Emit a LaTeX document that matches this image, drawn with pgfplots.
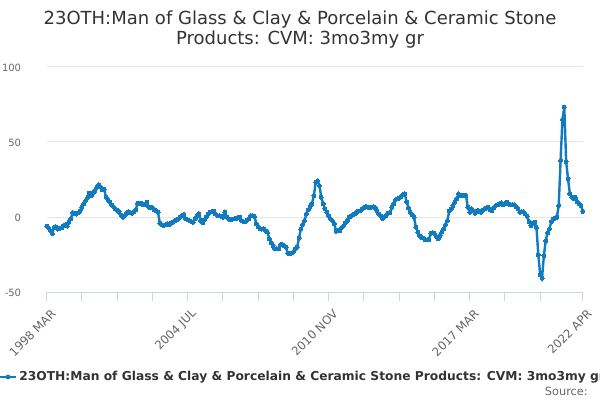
\documentclass[border=0pt]{standalone}
\usepackage{fontspec}
\setmainfont{DejaVu Sans}
\usepackage{pgfplots}
\pgfplotsset{compat=1.18}
\usepackage{pgfplotstable}
\definecolor{seriesblue}{RGB}{17,123,192}
\definecolor{titlegray}{HTML}{333333}
\definecolor{labelgray}{HTML}{666666}
\definecolor{gridgray}{HTML}{E6E6E6}
\definecolor{axisblue}{HTML}{CCD6EB}
\pgfplotstableread{
m v
0 -6
1 -7
2 -9
3 -11
4 -7
5 -6.5
6 -8
7 -7.5
8 -7.2
9 -6
10 -5
11 -6
12 -3.5
13 -1.2
14 3
15 2.5
16 2
17 3
18 4.3
19 6.5
20 8.8
21 11
22 13.2
23 15.9
24 14.3
25 16
26 17.7
27 19.9
28 21.4
29 20
30 18.1
31 18.5
32 13.2
33 11.5
34 9.9
35 8
36 7
37 5.5
38 4.5
39 3.7
40 1.5
41 -0.1
42 1
43 2.5
44 3.7
45 3
46 2.5
47 3.5
48 4.8
49 9.2
50 9
51 9.2
52 8
53 8.3
54 9.9
55 6.5
56 6.5
57 6.1
58 4.8
59 4
60 3.2
61 -4.1
62 -5
63 -5.7
64 -5
65 -4.5
66 -5
67 -4
68 -3.5
69 -2.5
70 -1.9
71 -1
72 -0.1
73 1
74 1.7
75 -1.2
76 -1.8
77 -2.3
78 -3
79 -3.5
80 -1.2
81 0.5
82 2.1
83 -2.3
84 -3.9
85 -2
86 -0.1
87 2
88 3.2
89 3.5
90 3.9
91 2
92 1
93 1
94 0.5
95 -0.1
96 3.2
97 0.3
98 -1
99 -1.9
100 -1.5
101 -1.2
102 -1.2
103 -0.5
104 -0.1
105 -2.3
106 -3
107 -3
108 -2
109 -1.2
110 1
111 0.8
112 0.5
113 -4.5
114 -6.5
115 -7.9
116 -8
117 -7.9
118 -9
119 -10.1
120 -14.5
121 -17
122 -19
123 -21.2
124 -21
125 -21.2
126 -18.3
127 -18.3
128 -19
129 -20.1
130 -24.1
131 -24.5
132 -24.1
133 -23
134 -21
135 -20
136 -14
137 -8
138 -5
139 -2.3
140 2.1
141 5
142 7
143 8.8
144 14.3
145 23.2
146 24.3
147 21
148 13.2
149 8.8
150 5.5
151 3.2
152 1
153 -1.2
154 -2.3
155 -4.5
156 -9.4
157 -9
158 -9
159 -7
160 -5.7
161 -4
162 -2.3
163 -0.1
164 0.5
165 1.5
166 2.1
167 3.2
168 3.9
169 4.3
170 5.5
171 6.1
172 7
173 6.5
174 6.1
175 6.5
176 7
177 6
178 4.3
179 2.1
180 1
181 -1
182 0
183 1
184 2.5
185 3
186 6.5
187 8.8
188 11.5
189 12.1
190 12.5
191 13.7
192 15
193 15.5
194 10
195 6
196 3.2
197 1.5
198 -0.1
199 -6.8
200 -10
201 -12.3
202 -13.5
203 -14
204 -15
205 -15.2
206 -15
207 -10.8
208 -10.5
209 -10.8
210 -13
211 -14.5
212 -12.3
213 -10
214 -7.9
215 -5
216 -2.3
217 3.9
218 5.5
219 7.7
220 9.9
221 12
222 15.5
223 14.5
224 14.3
225 14.5
226 14.3
227 6.5
228 3.2
229 5.5
230 4
231 2.5
232 4.3
233 4
234 3.2
235 4.5
236 5.5
237 6
238 6.5
239 5
240 4.3
241 6
242 7.7
243 8.1
244 9
245 9.4
246 8.1
247 9
248 9.9
249 9
250 8.1
251 8
252 8.1
253 7
254 5.5
255 3.2
256 3.5
257 3.7
258 2
259 0.5
260 -3
261 -5.7
262 -4.5
263 -3.5
264 -6.8
265 -25.2
266 -38.5
267 -40.8
268 -25.7
269 -15.7
270 -10.5
271 -7.9
272 -3
273 -1.5
274 -0.8
275 -0.1
276 7.7
277 37.7
278 65
279 73.2
280 37
281 25.5
282 15.5
283 13.2
284 12.1
285 13.2
286 10.3
287 9
288 7.7
289 3.7
}\datatable
\begin{document}
\begin{tikzpicture}
\path[use as bounding box] (0,0) rectangle (450pt,300pt);
\node[anchor=base, text=titlegray, font=\fontsize{13.5}{16}\selectfont] at (225pt,281.25pt) {23OTH:Man of Glass \& Clay \& Porcelain \& Ceramic Stone};
\node[anchor=base, text=titlegray, font=\fontsize{13.5}{16}\selectfont] at (225pt,266.25pt) {Products: CVM: 3mo3my gr};
\begin{axis}[
  at={(35.03pt,81pt)}, anchor=south west,
  scale only axis, width=402.1pt, height=168.75pt,
  xmin=0, xmax=289, ymin=-50, ymax=100,
  axis x line*=bottom, axis y line*=left,
  x axis line style={draw=axisblue, line width=0.75pt, -},
  y axis line style={draw=none},
  ytick={-50,0,50,100},
  ytick style={draw=none},
  ymajorgrids, grid style={draw=gridgray, line width=0.75pt},
  xtick={0,19,38,57,76,95,114,133,152,171,190,209,228,247,266,289},
  xticklabels={1998 MAR,,,,2004 JUL,,,,2010 NOV,,,,2017 MAR,,,2022 APR},
  tick align=outside, major tick length=6.5pt,
  xtick style={draw=axisblue, line width=0.75pt},
  /pgf/number format/assume math mode=true,
  yticklabel style={anchor=east, inner sep=0pt, xshift=-12.5pt, yshift=-1pt, text=labelgray, font=\fontsize{7.5}{9}\selectfont},
  xticklabel style={rotate=45, anchor=east, inner sep=0pt, yshift=-9.5pt, xshift=-2pt, text=labelgray, font=\fontsize{8.8}{10}\selectfont},
  clip=false,
]
\addplot[seriesblue, line width=1.8pt, mark=*, mark size=1.5pt, mark options={fill=seriesblue, draw=seriesblue, line width=0pt}] table[x=m, y=v] {\datatable};
\end{axis}
\draw[seriesblue, line width=1.8pt] (0pt,17.25pt) -- (12pt,17.25pt);
\fill[seriesblue] (6pt,17.25pt) circle (1.8pt);
\node[anchor=west, inner sep=0pt, text=titlegray, font=\fontsize{9.2}{11}\selectfont\bfseries] at (14.25pt,17.25pt) {23OTH:Man of Glass \& Clay \& Porcelain \& Ceramic Stone Products: CVM: 3mo3my gr};
\node[anchor=east, inner sep=0pt, text=labelgray, font=\fontsize{8.5}{10}\selectfont] at (441pt,6.75pt) {Source:};
\end{tikzpicture}
\end{document}
